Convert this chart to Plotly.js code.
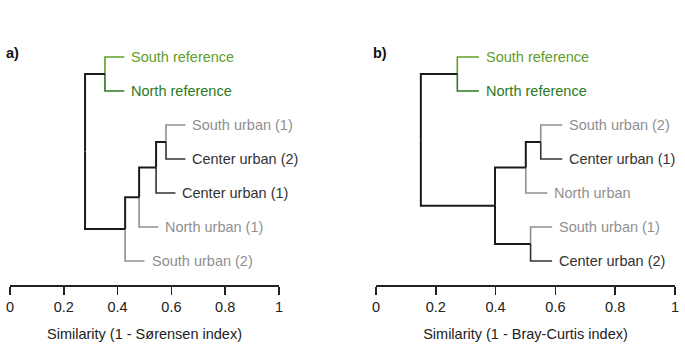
<!DOCTYPE html>
<html><head><meta charset="utf-8">
<script src="https://cdn.plot.ly/plotly-3.0.1.min.js"></script>
<style>html,body{margin:0;padding:0;background:#fff}#chart{width:685px;height:350px}</style>
</head><body><div id="chart"></div>
<script>
// ---- Data ----
// Panel a (Sørensen): leaves in plotted order (top to bottom)
const leavesA = ["South reference","North reference","South urban (1)","Center urban (2)","Center urban (1)","North urban (1)","South urban (2)"];
const groupsA = ["southRef","northRef","urban","center","center","urban","urban"];
// merges: negative = leaf index (1-based), positive = earlier merge (1-based)
const mergeLeftA  = [-1, -3, 2, 3, 4, 1];
const mergeRightA = [-2, -4, -5, -6, -7, 5];
const heightA     = [0.353, 0.580, 0.543, 0.480, 0.428, 0.279];

// Panel b (Bray-Curtis)
const leavesB = ["South reference","North reference","South urban (2)","Center urban (1)","North urban","South urban (1)","Center urban (2)"];
const groupsB = ["southRef","northRef","urban","center","urban","urban","center"];
const mergeLeftB  = [-1, -3, 2, -6, 3, 1];
const mergeRightB = [-2, -4, -5, -7, 4, 5];
const heightB     = [0.272, 0.551, 0.501, 0.517, 0.398, 0.150];

const tickVals = [0, 0.2, 0.4, 0.6, 0.8, 1];
const tickText = ["0", "0.2", "0.4", "0.6", "0.8", "1"];
const titleA = "Similarity (1 - Sørensen index)";
const titleB = "Similarity (1 - Bray-Curtis index)";

// ---- Styles ----
const COLORS = {southRef:"#5f9e2c", northRef:"#2b7a1f", urban:"#8f8f8f", center:"#333333", node:"#1a1a1a"};
const WIDTHS = {southRef:1.6, northRef:1.6, urban:1.6, center:1.6, node:2};
const HANG = 0.072;
const FONT = "Liberation Sans, Arial, sans-serif";

function build(leaves, groups, mL, mR, h, xa, ya) {
  const nodeY = {}, nodeX = {}, nodeG = {};
  leaves.forEach((l, i) => { nodeY[-(i+1)] = i; nodeG[-(i+1)] = groups[i]; });
  const segs = {};
  const add = (g, xs, ys) => { (segs[g] = segs[g] || {x:[], y:[]}); segs[g].x.push(...xs, null); segs[g].y.push(...ys, null); };
  const leafTipX = {};
  for (let k = 0; k < mL.length; k++) {
    const id = k + 1, px = h[k];
    const kids = [mL[k], mR[k]];
    const my = (nodeY[kids[0]] + nodeY[kids[1]]) / 2;
    nodeY[id] = my; nodeX[id] = px; nodeG[id] = "node";
    kids.forEach(c => {
      const cy = nodeY[c];
      const cx = c < 0 ? px + HANG : nodeX[c];
      if (c < 0) leafTipX[c] = cx;
      add(nodeG[c], [px, px, cx], [my, cy, cy]);
    });
  }
  const traces = Object.keys(segs).map(g => ({
    type: "scatter", mode: "lines", x: segs[g].x, y: segs[g].y, xaxis: xa, yaxis: ya,
    line: {color: COLORS[g], width: WIDTHS[g]}, hoverinfo: "skip", showlegend: false, cliponaxis: false
  }));
  const anns = leaves.map((l, i) => ({
    x: leafTipX[-(i+1)], y: i, xref: xa, yref: ya, text: l, showarrow: false,
    xanchor: "left", yanchor: "middle", xshift: 5,
    font: {family: FONT, size: 14.5, color: groups[i] === "center" ? "#333333" : COLORS[groups[i]]}
  }));
  return {traces, anns};
}

const A = build(leavesA, groupsA, mergeLeftA, mergeRightA, heightA, "x", "y");
const B = build(leavesB, groupsB, mergeLeftB, mergeRightB, heightB, "x2", "y2");

const xaxisBase = {
  range: [0, 1], fixedrange: true, showgrid: false, zeroline: false,
  showline: true, linecolor: "#222", linewidth: 1.5,
  ticks: "outside", ticklen: 8, tickwidth: 1.5, tickcolor: "#222",
  tickvals: tickVals, ticktext: tickText,
  tickfont: {family: FONT, size: 14.5, color: "#222"}
};
const yaxisBase = {range: [6.706, -0.5], visible: false, fixedrange: true};

const layout = {
  width: 685, height: 350,
  margin: {l: 0, r: 0, t: 40, b: 65},
  paper_bgcolor: "#fff", plot_bgcolor: "#fff",
  xaxis: Object.assign({}, xaxisBase, {domain: [10/685, 279/685], anchor: "y",
    title: {text: titleA, font: {family: FONT, size: 14.5, color: "#222"}, standoff: 15}}),
  xaxis2: Object.assign({}, xaxisBase, {domain: [376/685, 675/685], anchor: "y2",
    title: {text: titleB, font: {family: FONT, size: 14.5, color: "#222"}, standoff: 15}}),
  yaxis: Object.assign({}, yaxisBase, {anchor: "x"}),
  yaxis2: Object.assign({}, yaxisBase, {anchor: "x2"}),
  annotations: A.anns.concat(B.anns).concat([
    {xref: "paper", yref: "paper", x: 4/685, y: 1 - 18/350, text: "<b>a)</b>", showarrow: false, xanchor: "left", yanchor: "middle", font: {family: FONT, size: 14.5, color: "#111"}},
    {xref: "paper", yref: "paper", x: 371/685, y: 1 - 18/350, text: "<b>b)</b>", showarrow: false, xanchor: "left", yanchor: "middle", font: {family: FONT, size: 14.5, color: "#111"}}
  ]),
  showlegend: false
};

Plotly.newPlot("chart", A.traces.concat(B.traces), layout, {staticPlot: true, displayModeBar: false});
</script></body></html>
